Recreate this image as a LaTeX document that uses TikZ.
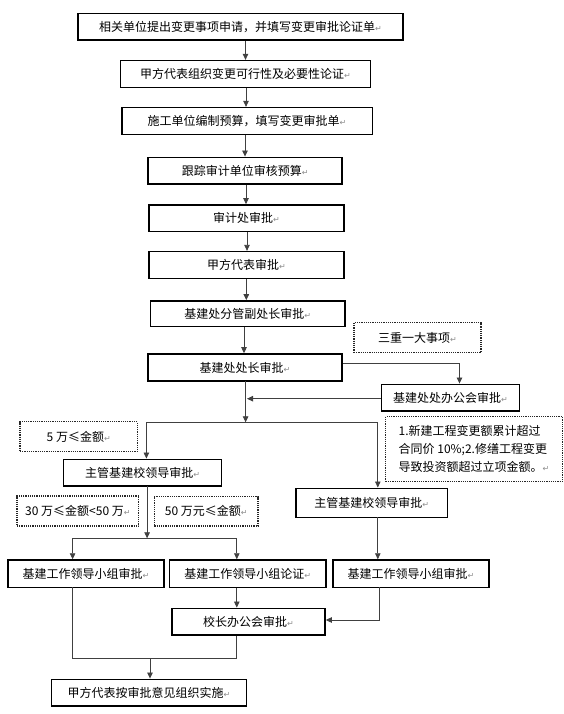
\documentclass[tikz,border=0pt]{standalone}
\usepackage{fontspec}
\setmainfont{Noto Sans CJK SC}
\newfontfamily\dvfont{DejaVu Sans}
\usetikzlibrary{arrows.meta}
\newcommand\retmark{{\dvfont\color{black!45}\fontsize{8}{8}\selectfont ↵}}
\begin{document}
\begin{tikzpicture}[x=1pt,y=-1pt,
  box/.style={draw=black,line width=1.6pt,inner sep=0pt,font=\fontsize{12}{14}\selectfont,fill=white},
  dbox/.style={draw=black!85,line width=1.2pt,densely dotted,inner sep=0pt,font=\fontsize{12}{14}\selectfont},
  conn/.style={draw=black!75,line width=0.8pt},
  arr/.style={conn,-{Triangle[length=6pt,width=5.5pt]}}]
\useasboundingbox (0,0) rectangle (563,714);
% main column
\node[box,minimum width=325pt,minimum height=26.7pt] (b1) at (240.5,26.7) {相关单位提出变更事项申请，并填写变更审批论证单\retmark};
\node[box,minimum width=250pt,minimum height=26.7pt] (b2) at (245.5,74) {甲方代表组织变更可行性及必要性论证\retmark};
\node[box,minimum width=250.6pt,minimum height=26.7pt] (b3) at (247,121) {施工单位编制预算，填写变更审批单\retmark};
\node[box,minimum width=194pt,minimum height=26.7pt] (b4) at (245.2,170.7) {跟踪审计单位审核预算\retmark};
\node[box,minimum width=195pt,minimum height=26.7pt] (b5) at (246.5,218.3) {审计处审批\retmark};
\node[box,minimum width=195pt,minimum height=26.7pt] (b6) at (246.5,265) {甲方代表审批\retmark};
\node[box,minimum width=194.3pt,minimum height=25.7pt] (b7) at (247.8,313.8) {基建处分管副处长审批\retmark};
\node[dbox,minimum width=127pt,minimum height=29.6pt] (n1) at (417.5,337.5) {三重一大事项\retmark};
\node[box,minimum width=194pt,minimum height=27pt] (b8) at (245,367.5) {基建处处长审批\retmark};
\node[box,minimum width=138pt,minimum height=26.7pt] (b9) at (450.4,397.7) {基建处处办公会审批\retmark};
% second level
\node[dbox,minimum width=117.3pt,minimum height=30pt] (n2) at (78.7,436.7) {5 万≤金额\retmark};
\node[dbox,minimum width=176.5pt,minimum height=65pt,align=left,font=\fontsize{12}{18}\selectfont] (n3) at (474,449.2) {1.新建工程变更额累计超过\\合同价 10\%;2.修缮工程变更\\导致投资额超过立项金额。\retmark};
\node[box,minimum width=158pt,minimum height=26.7pt] (b10) at (142.6,472.7) {主管基建校领导审批\retmark};
\node[box,minimum width=151.5pt,minimum height=29pt] (b11) at (371.8,502.8) {主管基建校领导审批\retmark};
\node[dbox,minimum width=121.8pt,minimum height=30pt] (n4) at (77.9,511) {30 万≤金额<50 万\retmark};
\node[dbox,minimum width=103.5pt,minimum height=29.3pt] (n5) at (206.2,511.3) {50 万元≤金额\retmark};
% third level
\node[box,minimum width=156.2pt,minimum height=27.3pt] (b12) at (86.1,573.7) {基建工作领导小组审批\retmark};
\node[box,minimum width=156.2pt,minimum height=27.3pt] (b13) at (247.7,573.7) {基建工作领导小组论证\retmark};
\node[box,minimum width=156pt,minimum height=27.3pt] (b14) at (411,573.7) {基建工作领导小组审批\retmark};
\node[box,minimum width=153.2pt,minimum height=26.7pt] (b15) at (248.4,621.7) {校长办公会审批\retmark};
\node[box,minimum width=194.7pt,minimum height=26.7pt] (b16) at (149,692.7) {甲方代表按审批意见组织实施\retmark};
% junction coordinates
\coordinate (c8) at (245.6,381);
\coordinate (j1) at (245.6,422.3);
\coordinate (jl) at (146.4,422.3);
\coordinate (jr) at (377.8,422.3);
\coordinate (r8) at (459.5,363.3);
\coordinate (l9) at (247,398.7);
\coordinate (c10) at (147.1,486);
\coordinate (j2) at (147.1,538.3);
\coordinate (j2l) at (72.6,538.3);
\coordinate (j2r) at (236.8,538.3);
\coordinate (c11) at (377.8,517.3);
\coordinate (c14) at (378.9,587.3);
\coordinate (k14) at (378.9,620);
\coordinate (c12) at (72.6,587.3);
\coordinate (k12) at (72.6,658.3);
\coordinate (k13) at (236.8,658.3);
\coordinate (k16) at (150,658.3);
% connectors main column
\draw[arr] (b2.north |- b1.south) -- (b2.north);
\draw[arr] (b2.south -| 246,0) -- (b3.north -| 246,0);
\draw[arr] (b3.south -| 245,0) -- (b4.north -| 245,0);
\draw[arr] (b4.south -| 246,0) -- (b5.north -| 246,0);
\draw[arr] (b5.south -| 247,0) -- (b6.north -| 247,0);
\draw[arr] (b6.south -| 246.3,0) -- (b7.north -| 246.3,0);
\draw[arr] (b7.south -| 244,0) -- (b8.north -| 244,0);
\draw[arr] (c8) -- (j1);
\draw[arr] (b8.east |- r8) -- (r8) -- (r8 |- b9.north);
\draw[arr] (b9.west |- l9) -- (l9);
\draw[conn] (jl) -- (jr);
\draw[arr] (jl) -- (jl |- b10.north);
\draw[arr] (jr) -- (jr |- b11.north);
\draw[arr] (c10) -- (j2);
\draw[conn] (j2l) -- (j2r);
\draw[arr] (j2l) -- (j2l |- b12.north);
\draw[arr] (j2r) -- (j2r |- b13.north);
\draw[arr] (c11) -- (c11 |- b14.north);
\draw[arr] (j2r |- b13.south) -- (j2r |- b15.north);
\draw[arr] (c14) -- (k14) -- (b15.east |- k14);
\draw[conn] (c12) -- (k12) -- (k13) -- (k13 |- b15.south);
\draw[arr] (k16) -- (k16 |- b16.north);
\end{tikzpicture}
\end{document}
